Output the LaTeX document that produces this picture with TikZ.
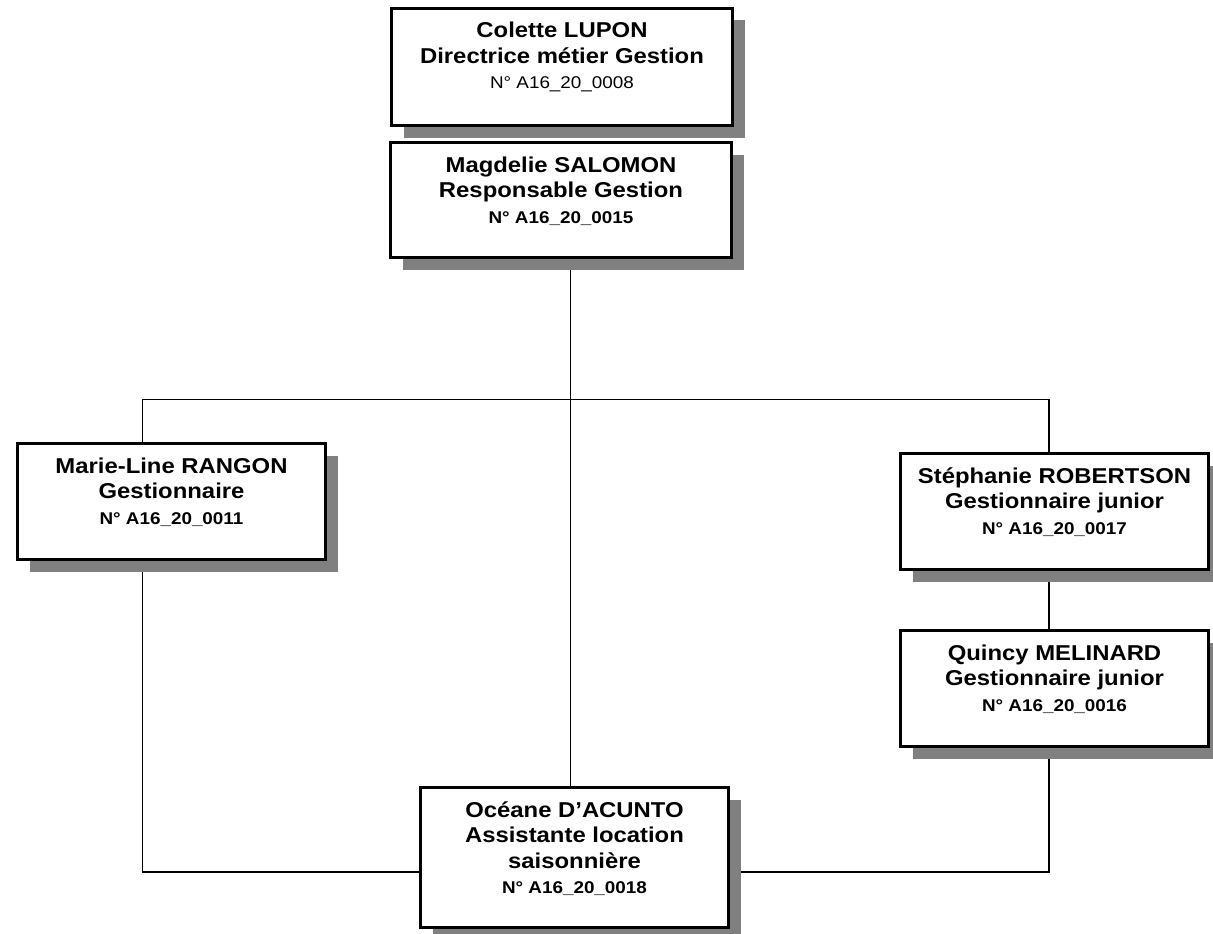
\documentclass[tikz,border=0pt]{standalone}
\usepackage{fontspec}
\setmainfont{Liberation Sans}
\newfontfamily\namefont[FakeStretch=1.11]{Liberation Sans}
\usetikzlibrary{shadows,backgrounds}
\definecolor{shgray}{HTML}{808080}
\newcommand{\orgbox}[3]{\begin{minipage}[t][#2pt][t]{#1pt}\centering
  \baselineskip=25.5pt\lineskip=0pt\lineskiplimit=-10pt
  #3\end{minipage}}
\newcommand{\nmline}[1]{\namefont\bfseries\fontsize{21.5}{25.5}\selectfont\rule{0pt}{29.5pt}#1\par}
\newcommand{\txline}[1]{\namefont\bfseries\fontsize{21.5}{25.5}\selectfont #1\par}
\newcommand{\nbold}[1]{\bfseries\fontsize{17}{25.5}\selectfont #1\par}
\newcommand{\nreg}[1]{\mdseries\fontsize{17}{25.5}\selectfont #1\par}
\tikzset{
  person/.style={draw=black, line width=3pt, fill=white, inner sep=0pt, outer sep=0pt,
    drop shadow={shadow xshift=12pt, shadow yshift=-12pt, fill=shgray, opacity=1}},
  link/.style={draw=black, line width=1.4pt}
}
\begin{document}
\begin{tikzpicture}[x=1pt,y=-1pt]
\useasboundingbox (0,0) rectangle (1213,934);
\clip (0,0) rectangle (1213,934);

\node[person] (colette) at (562,67) {\orgbox{341}{117}{\nmline{Colette LUPON}\txline{Directrice métier Gestion}\nreg{N° A16\_20\_0008}}};
\node[person] (magdelie) at (561,200) {\orgbox{341}{115}{\nmline{Magdelie SALOMON}\txline{Responsable Gestion}\nbold{N° A16\_20\_0015}}};
\node[person] (marie) at (171.5,501.5) {\orgbox{308}{116}{\nmline{Marie-Line RANGON}\txline{Gestionnaire}\nbold{N° A16\_20\_0011}}};
\node[person] (stephanie) at (1054.5,511.5) {\orgbox{308}{116}{\nmline{Stéphanie ROBERTSON}\txline{Gestionnaire junior}\nbold{N° A16\_20\_0017}}};
\node[person] (quincy) at (1054.5,688.5) {\orgbox{308}{116}{\nmline{Quincy MELINARD}\txline{Gestionnaire junior}\nbold{N° A16\_20\_0016}}};
\node[person] (oceane) at (574.5,857.5) {\orgbox{308}{140}{\nmline{Océane D’ACUNTO}\txline{Assistante location}\txline{saisonnière}\nbold{N° A16\_20\_0018}}};

\coordinate (hub) at (570.5,399.5);
\coordinate (lt) at (142.5,399.5);
\coordinate (rt) at (1049,399.5);
\coordinate (lb) at (142.5,872);
\coordinate (rb) at (1049,872);

\begin{scope}[on background layer]
\draw[link] (magdelie.south -| hub) -- (hub |- oceane.north);
\draw[link] (lt |- marie.north) -- (lt) -- (rt) -- (rt |- stephanie.north);
\draw[link] (rt |- stephanie.south) -- (rt |- quincy.north);
\draw[link] (lt |- marie.south) -- (lb) -- (lb -| oceane.west);
\draw[link] (rt |- quincy.south) -- (rb) -- (rb -| oceane.east);
\end{scope}
\end{tikzpicture}
\end{document}
